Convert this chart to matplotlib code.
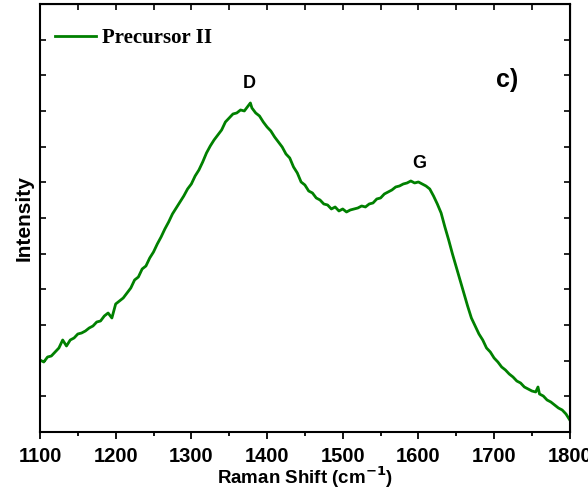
import matplotlib
matplotlib.use("Agg")
from matplotlib import pyplot as plt

# Raman shift (cm-1) and intensity (arb. units)
shift = [1100, 1105, 1110, 1115, 1120, 1125, 1130, 1135, 1140, 1145,
         1150, 1155, 1160, 1165, 1170, 1175, 1180, 1185, 1190, 1195,
         1200, 1205, 1210, 1215, 1220, 1225, 1230, 1235, 1240, 1245,
         1250, 1255, 1260, 1265, 1270, 1275, 1280, 1285, 1290, 1295,
         1300, 1305, 1310, 1315, 1320, 1325, 1330, 1335, 1340, 1345,
         1350, 1355, 1360, 1365, 1370, 1375, 1378, 1380, 1385, 1390,
         1395, 1400, 1405, 1410, 1415, 1420, 1425, 1430, 1435, 1440,
         1445, 1450, 1455, 1460, 1465, 1470, 1475, 1480, 1485, 1490,
         1495, 1500, 1505, 1510, 1515, 1520, 1525, 1530, 1535, 1540,
         1545, 1550, 1555, 1560, 1565, 1570, 1575, 1580, 1585, 1590,
         1595, 1600, 1605, 1610, 1615, 1620, 1625, 1630, 1635, 1640,
         1645, 1650, 1655, 1660, 1665, 1670, 1675, 1680, 1685, 1690,
         1695, 1700, 1705, 1710, 1715, 1720, 1725, 1730, 1735, 1740,
         1745, 1750, 1755, 1758, 1760, 1765, 1770, 1775, 1780, 1785,
         1790, 1795, 1800]
intensity = [72, 70, 75, 76, 80, 84, 92, 86, 92, 94,
             98, 99, 101, 104, 106, 110, 111, 116, 119, 114,
             128, 131, 134, 139, 144, 152, 155, 163, 166, 174,
             180, 188, 195, 203, 210, 218, 224, 230, 236, 243,
             248, 256, 262, 270, 279, 286, 292, 297, 302, 310,
             314, 318, 319, 322, 321, 326, 329, 324, 319, 316,
             310, 305, 301, 295, 290, 285, 278, 274, 265, 259,
             250, 247, 241, 239, 234, 232, 228, 227, 223, 225,
             221, 223, 220, 222, 223, 224, 226, 225, 228, 229,
             233, 234, 238, 240, 242, 245, 246, 248, 249, 251,
             249, 250, 248, 246, 243, 236, 228, 219, 205, 192,
             178, 165, 152, 139, 126, 114, 106, 98, 92, 84,
             80, 74, 70, 65, 62, 58, 55, 51, 49, 45,
             43, 41, 40, 45, 38, 36, 32, 30, 27, 24,
             22, 18, 12]

fig = plt.figure(figsize=(5.88, 4.94), dpi=100)
ax = fig.add_axes([0.068, 0.1255, 0.901, 0.8665])

ax.plot(shift, intensity, color="#008000", lw=2.0, label="Precursor II")

ax.set_xlim(1100, 1800)
ax.set_ylim(0, 428)
ax.set_xticks(range(1100, 1801, 100))
ax.set_xticks(range(1150, 1800, 100), minor=True)
ax.set_yticks([i * 428 / 12 for i in range(13)])
ax.set_yticklabels([])

for sp in ax.spines.values():
    sp.set_linewidth(1.5)
ax.tick_params(axis="x", which="major", direction="out", length=5, width=1.3,
               labelsize=14.5, pad=6)
ax.tick_params(axis="x", which="minor", direction="out", length=3, width=1.3)
ax.tick_params(axis="y", direction="in", length=4, width=1.2)
for lab in ax.get_xticklabels():
    lab.set_fontweight("bold")
    lab.set_family("Liberation Sans")

top = ax.secondary_xaxis("top")
top.set_xticks(range(1100, 1801, 50))
top.tick_params(direction="in", length=4, width=1.2, labeltop=False)
right = ax.secondary_yaxis("right")
right.set_yticks([i * 428 / 12 for i in range(13)])
right.tick_params(direction="in", length=4, width=1.2, labelright=False)

ax.set_xlabel("Raman Shift (cm$^{\\mathbf{-1}}$)", fontsize=13.5, fontweight="bold",
              family="Liberation Sans", labelpad=-1)
ax.set_ylabel("Intensity", fontsize=15, fontweight="bold",
              family="Liberation Sans", labelpad=1)

ax.text(1377, 340, "D", fontsize=13, fontweight="bold", family="Liberation Sans",
        ha="center", va="bottom")
ax.text(1601, 260, "G", fontsize=13, fontweight="bold", family="Liberation Sans",
        ha="center", va="bottom")
ax.text(1717, 352, "c)", fontsize=18, fontweight="bold", family="Liberation Sans",
        ha="center", va="center")

leg = ax.legend(loc="upper left", frameon=False, handlelength=2.0,
                handletextpad=0.3, borderaxespad=0.3,
                bbox_to_anchor=(0.0, 0.978),
                prop={"family": "Liberation Serif", "weight": "bold", "size": 15})

fig.savefig("out.png", dpi=100)
